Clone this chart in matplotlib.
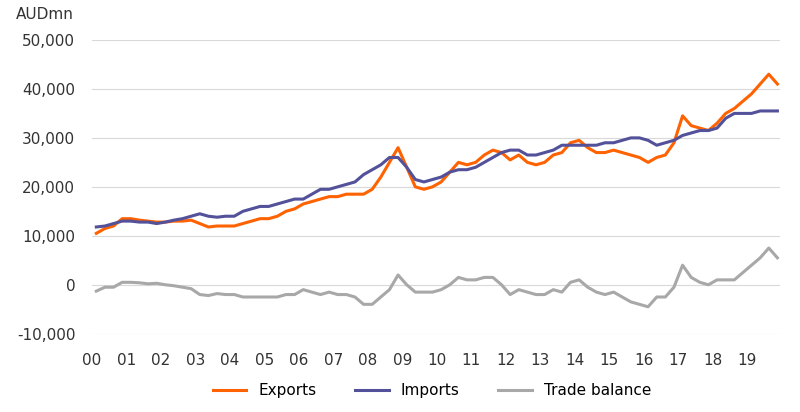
import numpy as np
import matplotlib.pyplot as plt

# quarterly values, AUD million (thousands)
exports = [10.5, 11.5, 12.0, 13.5, 13.5, 13.2, 13.0, 12.8, 12.8, 13.0, 13.0, 13.2,
           12.5, 11.8, 12.0, 12.0, 12.0, 12.5, 13.0, 13.5, 13.5, 14.0, 15.0, 15.5,
           16.5, 17.0, 17.5, 18.0, 18.0, 18.5, 18.5, 18.5, 19.5, 22.0, 25.0, 28.0,
           24.0, 20.0, 19.5, 20.0, 21.0, 23.0, 25.0, 24.5, 25.0, 26.5, 27.5, 27.0,
           25.5, 26.5, 25.0, 24.5, 25.0, 26.5, 27.0, 29.0, 29.5, 28.0, 27.0, 27.0,
           27.5, 27.0, 26.5, 26.0, 25.0, 26.0, 26.5, 29.0, 34.5, 32.5, 32.0, 31.5,
           33.0, 35.0, 36.0, 37.5, 39.0, 41.0, 43.0, 41.0]
imports = [11.8, 12.0, 12.5, 13.0, 13.0, 12.8, 12.8, 12.5, 12.8, 13.2, 13.5, 14.0,
           14.5, 14.0, 13.8, 14.0, 14.0, 15.0, 15.5, 16.0, 16.0, 16.5, 17.0, 17.5,
           17.5, 18.5, 19.5, 19.5, 20.0, 20.5, 21.0, 22.5, 23.5, 24.5, 26.0, 26.0,
           24.0, 21.5, 21.0, 21.5, 22.0, 23.0, 23.5, 23.5, 24.0, 25.0, 26.0, 27.0,
           27.5, 27.5, 26.5, 26.5, 27.0, 27.5, 28.5, 28.5, 28.5, 28.5, 28.5, 29.0,
           29.0, 29.5, 30.0, 30.0, 29.5, 28.5, 29.0, 29.5, 30.5, 31.0, 31.5, 31.5,
           32.0, 34.0, 35.0, 35.0, 35.0, 35.5, 35.5, 35.5]
years = [f"{y % 100:02d}" for y in range(2000, 2020)]

exports = np.array(exports) * 1000
imports = np.array(imports) * 1000
balance = exports - imports
t = 2000 + np.arange(len(exports)) / 4 + 0.125

fig = plt.figure(figsize=(8, 4.12), dpi=100)
ax = fig.add_axes([0.115, 0.19, 0.86, 0.713])
ax.plot(t, exports, color="#FF6200", lw=2.2, label="Exports")
ax.plot(t, imports, color="#525199", lw=2.2, label="Imports")
ax.plot(t, balance, color="#A8A8A8", lw=2.2, label="Trade balance")

ax.set_xlim(2000, 2019.95)
ax.set_ylim(-10000, 50000)
ax.set_yticks(range(-10000, 50001, 10000))
ax.yaxis.set_major_formatter(plt.FuncFormatter(lambda v, p: f"{int(v):,}"))
ax.set_xticks(range(2000, 2020))
ax.set_xticklabels(years)
ax.grid(axis="y", color="#D9D9D9", lw=0.8)
ax.set_axisbelow(True)
for s in ax.spines.values():
    s.set_visible(False)
ax.tick_params(length=0, labelsize=11, colors="#333333")
ax.tick_params(axis="x", pad=14)
ax.tick_params(axis="y", pad=12)

fig.text(0.02, 0.965, "AUDmn", fontsize=11, color="#333333", va="center")
fig.legend(loc="lower center", ncol=3, frameon=False, fontsize=11,
           bbox_to_anchor=(0.54, 0.0), handlelength=2.2, columnspacing=2.5)
fig.savefig("out.png")
